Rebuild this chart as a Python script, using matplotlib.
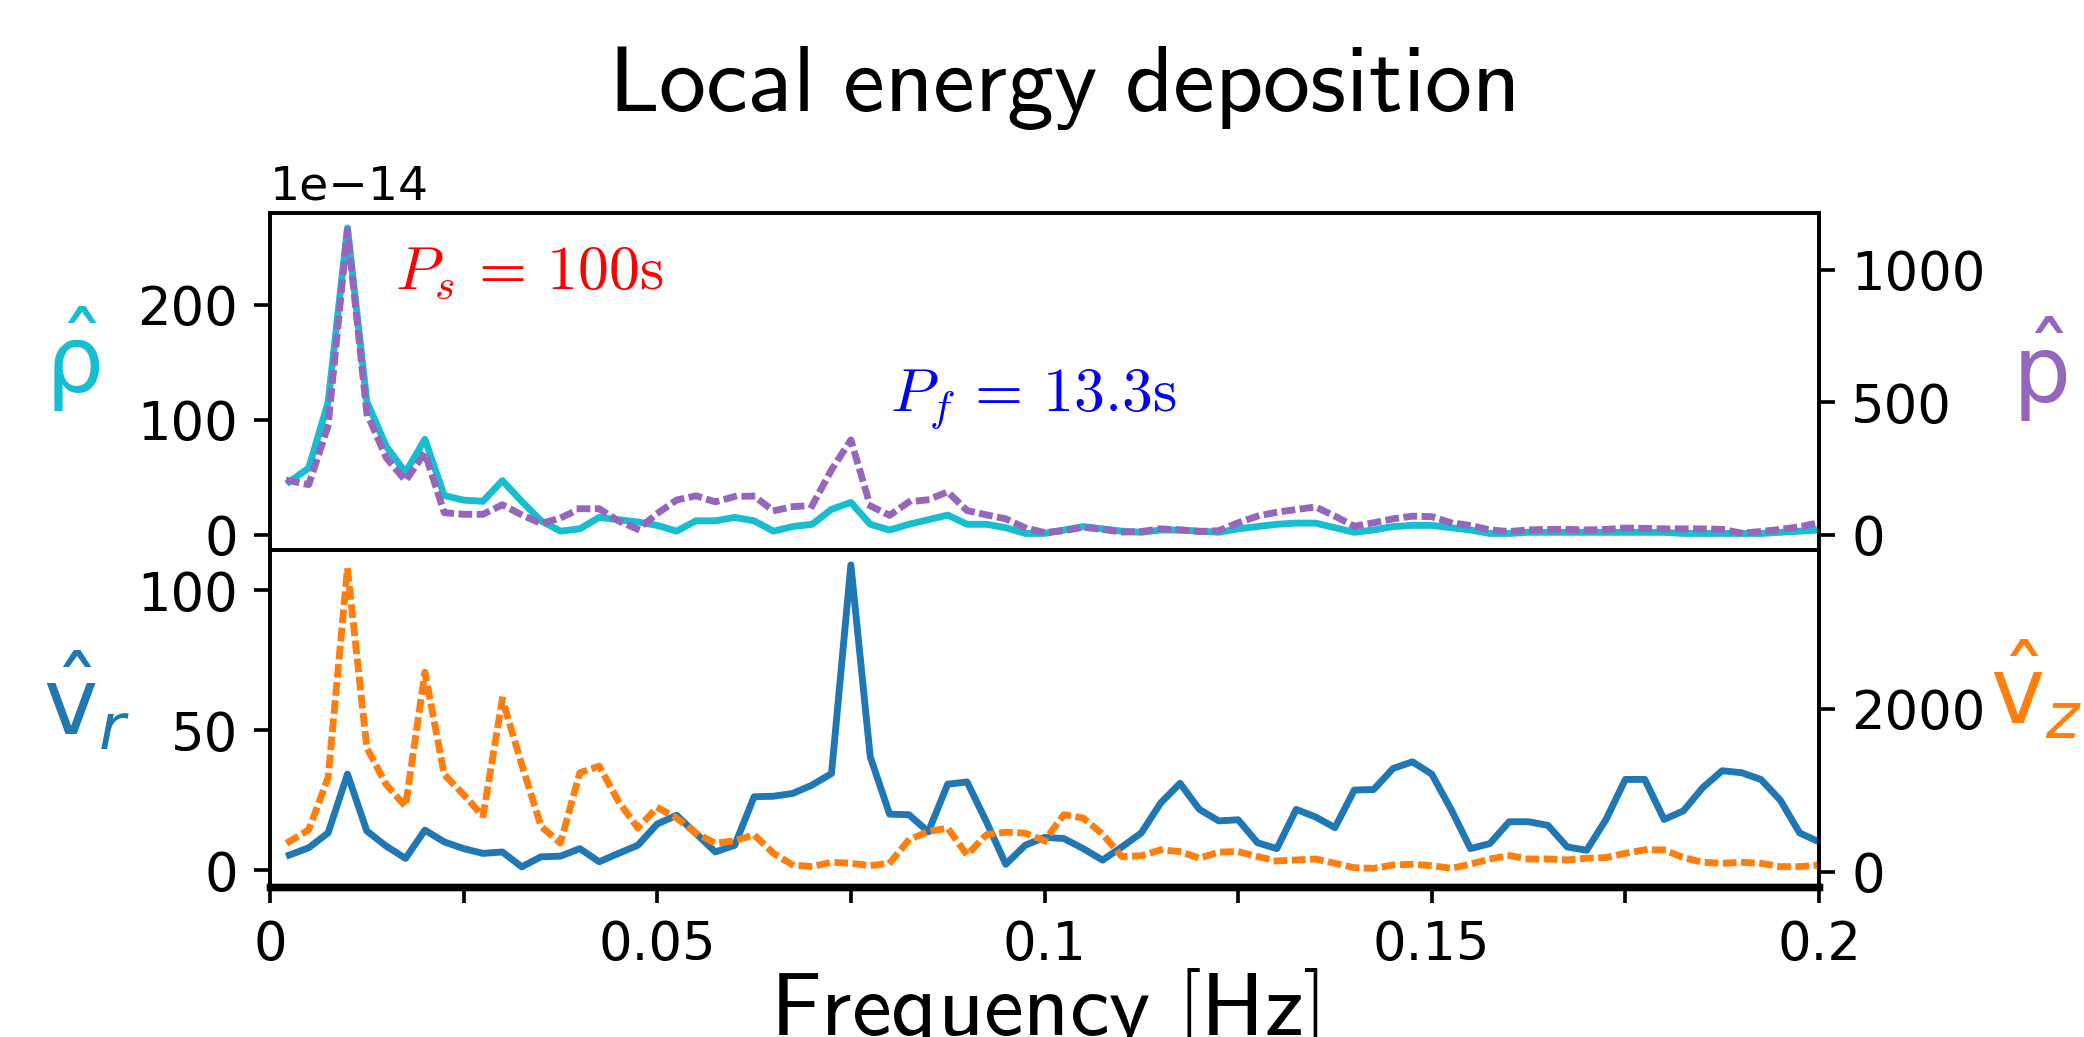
import matplotlib.pyplot as plt
import numpy as np

# frequency grid (Hz), 0.0025 Hz resolution
freq = np.arange(1, 81) * 0.0025

# density spectrum, in units of 1e-14
rho_hat = [46, 58, 115, 267, 116, 77, 54, 83, 34, 30,
           29, 47, 29, 12, 3, 5, 15, 13, 11, 8,
           3, 12, 12, 15, 12, 3, 7, 9, 22, 28,
           9, 4, 9, 13, 17, 9, 9, 6, 1, 1,
           4, 7, 5, 3, 2, 4, 4, 3, 2, 5,
           7, 9, 10, 10, 6, 2, 4, 7, 8, 8,
           6, 4, 1, 1, 2, 2, 2, 2, 2, 2,
           2, 2, 1, 1, 1, 1, 1, 2, 3, 4]

p_hat = [204, 189, 411, 1151, 460, 291, 204, 309, 83, 77,
         77, 113, 75, 42, 63, 98, 98, 52, 20, 80,
         131, 147, 124, 144, 146, 90, 106, 110, 245, 358,
         109, 73, 124, 132, 162, 91, 75, 60, 26, 8,
         15, 28, 20, 10, 12, 22, 18, 12, 15, 45,
         70, 85, 95, 105, 70, 32, 45, 60, 70, 68,
         45, 35, 18, 12, 18, 20, 20, 18, 20, 25,
         24, 22, 22, 22, 20, 6, 12, 20, 30, 45]

vr_hat = [5.4, 8, 13.3, 34.3, 14, 8.6, 4.2, 14.3, 10.1, 7.7,
          6, 6.5, 1.2, 4.8, 5, 7.7, 3, 6, 8.9, 16.5,
          19.6, 13.1, 6.5, 8.9, 26.2, 26.4, 27.4, 30.4, 34.5, 109,
          40.5, 20, 19.8, 13.7, 30.7, 31.5, 17.3, 2.1, 8.9, 11.7,
          11.3, 7.7, 3.6, 8.3, 13.3, 24, 31, 21.7, 17.6, 18,
          9.8, 7.7, 21.7, 19, 15.2, 28.6, 28.8, 36.3, 38.7, 34.3,
          21.7, 7.7, 9.5, 17.3, 17.3, 16, 8.3, 7.1, 18.1, 32.4,
          32.4, 18.1, 21.2, 29.5, 35.5, 34.8, 32.4, 25, 13.3, 10.1]

vz_hat = [370, 514, 1152, 3724, 1523, 1070, 802, 2449, 1193, 946,
          679, 2119, 1317, 556, 350, 1214, 1296, 864, 535, 790,
          658, 473, 350, 379, 453, 226, 82, 62, 115, 103,
          74, 103, 391, 494, 535, 206, 453, 485, 473, 380,
          700, 658, 461, 185, 195, 268, 247, 165, 240, 247,
          185, 132, 144, 156, 103, 49, 41, 82, 91, 74,
          41, 91, 156, 198, 156, 156, 144, 165, 173, 226,
          268, 268, 173, 115, 103, 115, 103, 62, 62, 82]

xticks = [0, 0.025, 0.05, 0.075, 0.1, 0.125, 0.15, 0.175, 0.2]
xticklabels = ['0', '', '0.05', '', '0.1', '', '0.15', '', '0.2']

W, H, DPI = 2084, 1037, 330
fig = plt.figure(figsize=(W / DPI, H / DPI), dpi=DPI)

L, R = 270 / W, 1819 / W
top_y0, top_y1 = 1 - 550 / H, 1 - 213 / H
bot_y0 = 1 - 887 / H

ax1 = fig.add_axes([L, top_y0, R - L, top_y1 - top_y0])
ax3 = fig.add_axes([L, bot_y0, R - L, top_y0 - bot_y0], sharex=ax1)
ax2 = ax1.twinx()
ax4 = ax3.twinx()

dot = dict(ls=':', lw=1.5, dash_capstyle='projecting')
ax1.plot(freq, np.array(rho_hat) * 1e-14, color='tab:cyan', lw=1.5)
ax2.plot(freq, p_hat, color='tab:purple', **dot)
ax3.plot(freq, vr_hat, color='tab:blue', lw=1.5)
ax4.plot(freq, vz_hat, color='tab:orange', **dot)

ax1.set_xlim(0, 0.2)
ax1.set_ylim(-13.4e-14, 280e-14)
ax2.set_ylim(-57.8, 1215)
ax3.set_ylim(-6, 114.3)
ax4.set_ylim(-188, 3950)

ax1.set_yticks([0, 100e-14, 200e-14])
ax1.yaxis.get_major_formatter().set_powerlimits((-14, -14))
ax2.set_yticks([0, 500, 1000])
ax3.set_yticks([0, 50, 100])
ax4.set_yticks([0, 2000])

ax3.set_xticks(xticks)
ax3.set_xticklabels(xticklabels)
ax1.tick_params(axis='x', length=0, labelbottom=False)

# the lower frame edge is drawn heavier in the original
for a in (ax3, ax4):
    a.spines['bottom'].set_linewidth(1.6)

fs = 11.5
for a in (ax1, ax2, ax3, ax4):
    a.tick_params(labelsize=fs)
ax1.yaxis.get_offset_text().set_fontsize(10.3)

ax3.set_xlabel(r'$\mathsf{Frequency\ [Hz]}$', math_fontfamily='cm', fontsize=19.5)
ax3.xaxis.set_label_coords(0.5, -0.235)

fig.text(1061 / W, 1 - 86 / H, r'$\mathsf{Local\ energy\ deposition}$',
         math_fontfamily='cm', fontsize=20.5, ha='center', va='center')

ylab = dict(fontsize=20, ha='center', va='center')
fig.text(73 / W, 1 - 359 / H, r'$\hat{\mathrm{\rho}}$', color='tab:cyan', **ylab)
fig.text(2040 / W, 1 - 369 / H, r'$\hat{\mathrm{p}}$', color='tab:purple', **ylab)
fig.text(86 / W, 1 - 702 / H, r'$\hat{\mathrm{v}}_r$', color='tab:blue', **ylab)
fig.text(2036 / W, 1 - 691 / H, r'$\hat{\mathrm{v}}_z$', color='tab:orange', **ylab)

ax1.text(0.0161, 229e-14, r'$P_s\,=\,100\mathrm{s}$', color='red',
         fontsize=13.5, math_fontfamily='cm', va='center')
ax1.text(0.080, 118e-14, r'$P_f\,=\,13.3\mathrm{s}$', color='blue',
         fontsize=13.5, math_fontfamily='cm', va='center')

fig.savefig('out.png', dpi=DPI)
